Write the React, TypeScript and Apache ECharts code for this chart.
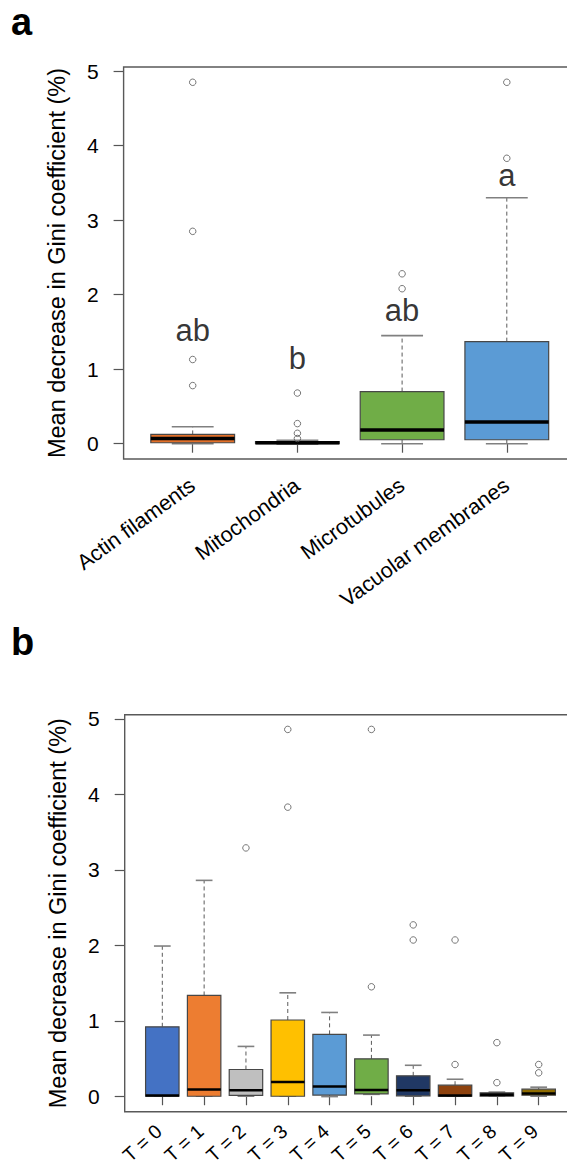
import React, { useEffect, useRef } from 'react';
import * as echarts from 'echarts';

const FONT = 'Liberation Sans, Arial, Helvetica, sans-serif';

// Panel a
const catsA = ['Actin filaments', 'Mitochondria', 'Microtubules', 'Vacuolar membranes'];
const colorsA = ['#E2702A', '#303030', '#70AD47', '#5B9BD5'];
// [lower whisker, Q1, median, Q3, upper whisker]
const boxesA = [
  [0.0, 0.013, 0.07, 0.125, 0.228],
  [-0.005, 0.0, 0.012, 0.028, 0.045],
  [0.0, 0.053, 0.183, 0.7, 1.45],
  [0.0, 0.053, 0.29, 1.37, 3.3],
];
const outliersA = [
  [4.85, 2.85, 1.13, 0.78],
  [0.68, 0.27, 0.14, 0.07],
  [2.28, 2.08],
  [4.85, 3.83],
];
const lettersA = ['ab', 'b', 'ab', 'a'];
const letterPosA = [1.52, 1.14, 1.79, 3.6];

// Panel b
const catsB = ['T = 0', 'T = 1', 'T = 2', 'T = 3', 'T = 4', 'T = 5', 'T = 6', 'T = 7', 'T = 8', 'T = 9'];
const colorsB = ['#4472C4', '#ED7D31', '#BFBFBF', '#FFC000', '#5B9BD5', '#70AD47', '#203864', '#8E420E', '#303030', '#8F6C00'];
const boxesB = [
  [0.0, 0.0, 0.01, 0.92, 1.99],
  [0.0, 0.0, 0.09, 1.335, 2.86],
  [0.0, 0.01, 0.08, 0.354, 0.66],
  [0.0, 0.0, 0.19, 1.01, 1.37],
  [-0.005, 0.015, 0.13, 0.82, 1.11],
  [0.025, 0.03, 0.084, 0.495, 0.81],
  [0.0, 0.005, 0.08, 0.27, 0.41],
  [0.0, 0.0, 0.01, 0.146, 0.225],
  [0.0, 0.0, 0.02, 0.045, 0.055],
  [0.0, 0.013, 0.035, 0.093, 0.12],
];
const outliersB = [
  [],
  [],
  [3.29],
  [4.86, 3.83],
  [],
  [4.86, 1.45],
  [2.27, 2.07],
  [2.07, 0.42],
  [0.71, 0.18],
  [0.42, 0.31],
];

const yTicks = [0, 1, 2, 3, 4, 5];
const yTitle = 'Mean decrease in Gini coefficient (%)';

function makeRender(colors: string[], medianW: number) {
  return (params: any, api: any) => {
    const i = api.value(0);
    const lo = api.value(1);
    const q1 = api.value(2);
    const med = api.value(3);
    const q3 = api.value(4);
    const hi = api.value(5);
    const band = api.size([1, 0])[0];
    const bw = band * 0.8;
    const cw = bw * 0.5;
    const pLo = api.coord([i, lo]);
    const pQ1 = api.coord([i, q1]);
    const pMed = api.coord([i, med]);
    const pQ3 = api.coord([i, q3]);
    const pHi = api.coord([i, hi]);
    const x = pMed[0];
    const whisker = { stroke: '#5a5a5a', lineWidth: 1, lineDash: [4, 3] };
    const cap = { stroke: '#808080', lineWidth: 1.6 };
    return {
      type: 'group',
      children: [
        { type: 'line', shape: { x1: x, y1: pQ3[1], x2: x, y2: pHi[1] }, style: whisker },
        { type: 'line', shape: { x1: x, y1: pQ1[1], x2: x, y2: pLo[1] }, style: whisker },
        { type: 'line', shape: { x1: x - cw / 2, y1: pHi[1], x2: x + cw / 2, y2: pHi[1] }, style: cap },
        { type: 'line', shape: { x1: x - cw / 2, y1: pLo[1], x2: x + cw / 2, y2: pLo[1] }, style: cap },
        {
          type: 'rect',
          shape: { x: x - bw / 2, y: pQ3[1], width: bw, height: Math.max(pQ1[1] - pQ3[1], 0.5) },
          style: { fill: colors[i], stroke: '#474747', lineWidth: 1.2 },
        },
        {
          type: 'line',
          shape: { x1: x - bw / 2, y1: pMed[1], x2: x + bw / 2, y2: pMed[1] },
          style: { stroke: '#000', lineWidth: medianW },
        },
      ],
    };
  };
}

function yAxisCfg(gridIndex: number, offset: number) {
  return {
    gridIndex,
    type: 'value',
    min: -0.205,
    max: 5.055,
    offset,
    axisLine: { show: false },
    splitLine: { show: false },
    axisTick: { show: true, length: 10, customValues: yTicks, lineStyle: { color: '#555', width: 1.2 } },
    axisLabel: { show: true, customValues: yTicks, fontSize: 21, color: '#000', margin: 25, fontFamily: FONT },
    name: yTitle,
    nameLocation: 'middle',
    nameRotate: 90,
    nameGap: 55,
    nameTextStyle: { fontSize: 23.5, color: '#000', fontFamily: FONT },
  };
}

function xAxisCfg(gridIndex: number, data: string[], rotate: number, margin: number, fontSize: number, padRight: number) {
  return {
    gridIndex,
    type: 'category',
    data,
    boundaryGap: true,
    axisLine: { show: false },
    splitLine: { show: false },
    axisTick: { show: true, alignWithLabel: true, length: 9, lineStyle: { color: '#555', width: 1.2 } },
    axisLabel: {
      rotate,
      fontSize,
      color: '#000',
      margin,
      interval: 0,
      fontFamily: FONT,
      padding: [0, padRight, 0, 0],
    },
  };
}

function outlierData(list: number[][]) {
  const out: number[][] = [];
  list.forEach((arr, i) => arr.forEach((v) => out.push([i, v])));
  return out;
}

export default function App() {
  const ref = useRef<HTMLDivElement>(null);
  useEffect(() => {
    if (!ref.current) return;
    const chart = echarts.init(ref.current, undefined, { renderer: 'svg' });
    const outlierStyle = { color: 'rgba(0,0,0,0)', borderColor: '#555', borderWidth: 1 };
    chart.setOption({
      animation: false,
      backgroundColor: '#fff',
      textStyle: { fontFamily: FONT },
      grid: [
        { left: 140.35, top: 67, width: 418.8, height: 392, outerBoundsMode: 'none' },
        { left: 141.4, top: 714.7, width: 418.2, height: 397, outerBoundsMode: 'none' },
      ],
      xAxis: [xAxisCfg(0, catsA, 36, 24, 21.5, 0), xAxisCfg(1, catsB, 42, 13, 19.5, 5)],
      yAxis: [yAxisCfg(0, 16.75), yAxisCfg(1, 16.7)],
      graphic: [
        {
          type: 'rect',
          silent: true,
          z: 100,
          shape: { x: 123.6, y: 67, width: 470, height: 392 },
          style: { fill: 'none', stroke: '#595959', lineWidth: 1.4 },
        },
        {
          type: 'rect',
          silent: true,
          z: 100,
          shape: { x: 124.7, y: 714.7, width: 470, height: 397 },
          style: { fill: 'none', stroke: '#595959', lineWidth: 1.4 },
        },
        {
          type: 'text',
          x: 11,
          y: 3,
          style: { text: 'a', fontSize: 38, fontWeight: 'bold', fontFamily: FONT, fill: '#000' },
        },
        {
          type: 'text',
          x: 11,
          y: 623,
          style: { text: 'b', fontSize: 38, fontWeight: 'bold', fontFamily: FONT, fill: '#000' },
        },
      ],
      series: [
        {
          type: 'custom',
          xAxisIndex: 0,
          yAxisIndex: 0,
          renderItem: makeRender(colorsA, 3.5),
          data: boxesA.map((b, i) => [i, ...b]),
          encode: { x: 0, y: [1, 2, 3, 4, 5] },
          silent: true,
        },
        {
          type: 'scatter',
          xAxisIndex: 0,
          yAxisIndex: 0,
          symbol: 'circle',
          symbolSize: 6.5,
          itemStyle: outlierStyle,
          data: outlierData(outliersA),
          silent: true,
        },
        {
          type: 'scatter',
          xAxisIndex: 0,
          yAxisIndex: 0,
          symbolSize: 0,
          data: lettersA.map((t, i) => ({ name: t, value: [i, letterPosA[i]] })),
          label: { show: true, position: 'inside', formatter: '{b}', fontSize: 31, color: '#000', fontFamily: FONT },
          silent: true,
        },
        {
          type: 'custom',
          xAxisIndex: 1,
          yAxisIndex: 1,
          renderItem: makeRender(colorsB, 2.5),
          data: boxesB.map((b, i) => [i, ...b]),
          encode: { x: 0, y: [1, 2, 3, 4, 5] },
          silent: true,
        },
        {
          type: 'scatter',
          xAxisIndex: 1,
          yAxisIndex: 1,
          symbol: 'circle',
          symbolSize: 6.5,
          itemStyle: outlierStyle,
          data: outlierData(outliersB),
          silent: true,
        },
      ],
    });
    return () => chart.dispose();
  }, []);
  return <div ref={ref} style={{ position: 'absolute', left: 0, top: 0, width: 567, height: 1167 }} />;
}
